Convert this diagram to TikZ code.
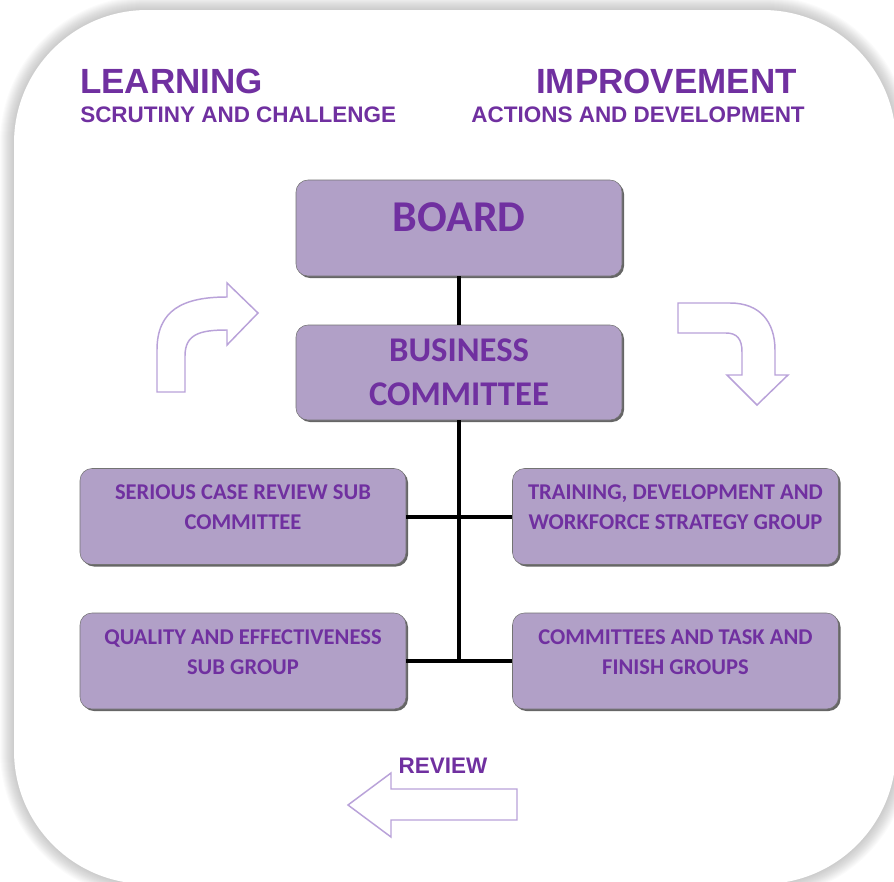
\documentclass[tikz,border=0pt]{standalone}
\usepackage{fontspec}
\setmainfont{Carlito}
\newfontfamily\headfont{Liberation Sans}
\usetikzlibrary{shadows}
\definecolor{boxfill}{HTML}{B1A0C7}
\definecolor{boxtext}{HTML}{7030A0}
\definecolor{arrowline}{HTML}{B9A2D9}

\begin{document}
\begin{tikzpicture}[x=0.75pt, y=-0.75pt,
  box/.style={draw=black!55, fill=boxfill, rounded corners=9pt, text=boxtext, align=center,
    minimum width=244.5pt, minimum height=72pt, inner sep=0pt,
    drop shadow={shadow xshift=1.5pt, shadow yshift=-1.5pt, fill=black, opacity=.6}},
  bigbox/.style={box, font=\bfseries\fontsize{26}{33}\selectfont},
  smallbox/.style={box, font=\bfseries\fontsize{16.9}{22.5}\selectfont, text depth=14pt},
  link/.style={line width=3pt},
  turn/.style={draw=arrowline, line width=1.1pt, fill=white},
  heading/.style={text=boxtext, inner sep=0pt, font=\headfont\bfseries\fontsize{26.25}{30}\selectfont},
  subheading/.style={text=boxtext, inner sep=0pt, font=\headfont\bfseries\fontsize{16.85}{20}\selectfont}]

  \useasboundingbox (0,0) rectangle (894,882);

  % card shadow
  \foreach \i [evaluate=\i as \r using 100+0.75*\i] in {1,...,14}
    \fill[black, opacity=0.016, rounded corners=\r pt] (14-\i,10-\i) rectangle (896+\i,884+\i);

  % card
  \fill[white, rounded corners=100pt] (14,10) rectangle (896,884);

  % titles
  \node[heading, anchor=base west] (learn) at (80,93) {LEARNING};
  \node[subheading, anchor=base west] (scrutiny) at (80,122) {SCRUTINY AND CHALLENGE};
  \node[heading, anchor=base east] (improve) at (797,93) {IMPROVEMENT};
  \node[subheading, anchor=base east] (actions) at (805,122) {ACTIONS AND DEVELOPMENT};

  % boxes
  \node[bigbox, font=\bfseries\fontsize{33}{36}\selectfont, text depth=16.5pt] (board) at (459,228) {BOARD};
  \node[bigbox, minimum height=71.25pt, text depth=0pt] (business) at (459,372.5) {BUSINESS\\COMMITTEE};
  \node[smallbox] (serious) at (243,516.5) {SERIOUS CASE REVIEW SUB\\COMMITTEE};
  \node[smallbox] (training) at (675.5,516.5) {TRAINING, DEVELOPMENT AND\\WORKFORCE STRATEGY GROUP};
  \node[smallbox] (quality) at (243,661) {QUALITY AND EFFECTIVENESS\\SUB GROUP};
  \node[smallbox] (groups) at (675.5,661) {COMMITTEES AND TASK AND\\FINISH GROUPS};

  % lines
  \draw[link] (board) -- (business);
  \draw[link] (business) -- (business |- quality.east);
  \draw[link] (serious) -- (training);
  \draw[link] (quality) -- (groups);

  % arrow up and right
  \draw[turn] (157,392) -- (157,350) .. controls (157,310) and (183,297) .. (227,297)
    -- (227,283) -- (258,313) -- (227,345) -- (227,330)
    .. controls (200,330) and (185,334) .. (185,356) -- (185,392) -- cycle;

  % arrow right and down
  \draw[turn] (678,303) -- (730,303) .. controls (760,303) and (775,322) .. (775,350)
    -- (775,375) -- (788,375) -- (757,405) -- (727,375) -- (742,375) -- (742,352)
    .. controls (742,339) and (737,333) .. (726,333) -- (678,333) -- cycle;

  % review arrow
  \draw[turn] (348,805) -- (391,773) -- (391,789) -- (517,789) -- (517,820)
    -- (391,820) -- (391,837) -- cycle;
  \node[subheading] (review) at (443,766) {REVIEW};

\end{tikzpicture}
\end{document}
